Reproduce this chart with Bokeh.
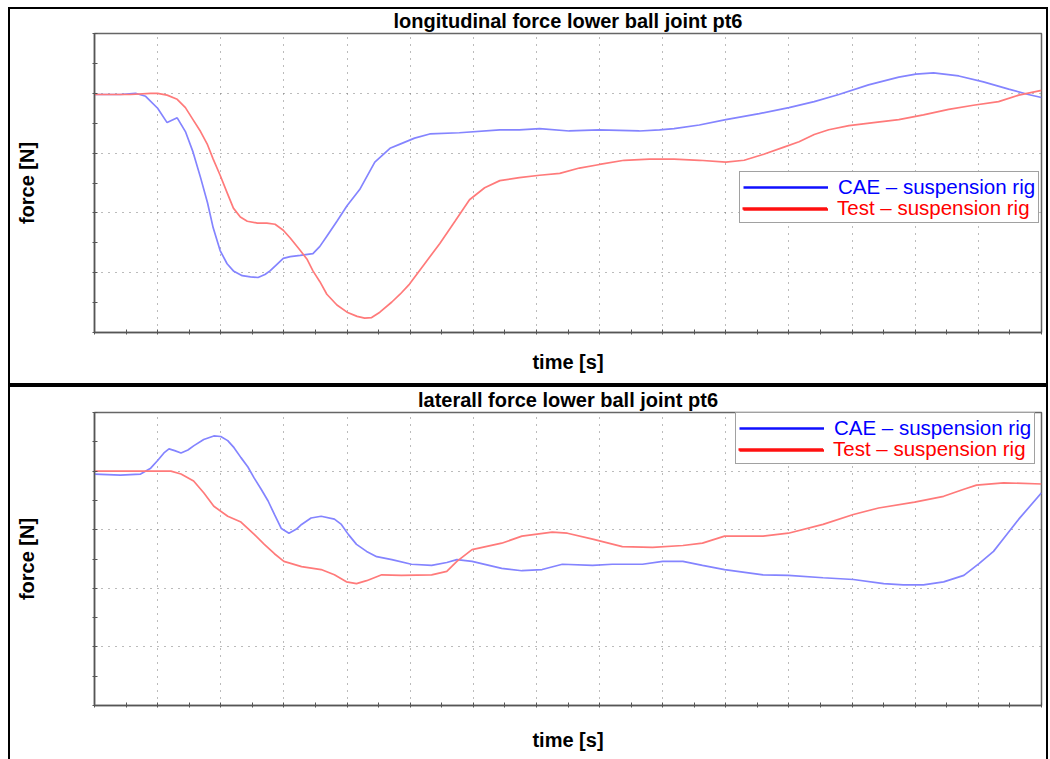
from bokeh.plotting import figure
from bokeh.layouts import column
from bokeh.models import FixedTicker, Legend, LegendItem
from bokeh.embed import file_html
from bokeh.resources import INLINE

# ---------------- data (grid units) ----------------
top_cae_t = [0, 0.41, 0.65, 0.81, 1.00, 1.15, 1.31, 1.44, 1.56, 1.68, 1.79, 1.88, 1.99, 2.10, 2.20,
             2.34, 2.47, 2.59, 2.70, 2.78, 2.89, 2.99, 3.10, 3.26, 3.46, 3.57, 3.68, 3.84, 4.00, 4.20,
             4.44, 4.68, 4.84, 5.07, 5.31, 5.78, 6.42, 6.73, 7.05, 7.52, 7.99, 8.63, 8.95, 9.18, 9.58,
             10.00, 10.53, 11.00, 11.40, 11.79, 12.26, 12.74, 13.01, 13.29, 13.69, 14.08, 14.48, 14.79, 15.00]
top_cae_f = [3.98, 3.98, 4.00, 3.95, 3.75, 3.51, 3.59, 3.36, 3.02, 2.59, 2.17, 1.75, 1.37, 1.15, 1.03,
             0.95, 0.93, 0.92, 0.97, 1.03, 1.14, 1.24, 1.27, 1.29, 1.32, 1.44, 1.61, 1.86, 2.12, 2.39,
             2.85, 3.08, 3.15, 3.25, 3.32, 3.34, 3.39, 3.39, 3.41, 3.37, 3.39, 3.37, 3.39, 3.41, 3.47,
             3.56, 3.66, 3.76, 3.86, 3.98, 4.14, 4.27, 4.32, 4.34, 4.29, 4.19, 4.07, 3.98, 3.93]

top_test_t = [0, 0.57, 0.89, 1.00, 1.15, 1.31, 1.44, 1.56, 1.68, 1.79, 1.88, 1.99, 2.10, 2.20, 2.31,
              2.42, 2.58, 2.73, 2.86, 2.99, 3.10, 3.26, 3.37, 3.46, 3.57, 3.68, 3.84, 4.00, 4.16, 4.28,
              4.39, 4.52, 4.71, 4.84, 4.99, 5.23, 5.47, 5.71, 5.94, 6.18, 6.42, 6.73, 7.05, 7.37, 7.68,
              8.00, 8.39, 8.79, 9.18, 9.58, 10.00, 10.29, 10.60, 10.92, 11.16, 11.40, 11.63, 11.95, 12.34,
              12.74, 13.13, 13.53, 13.92, 14.32, 14.64, 15.00]
top_test_f = [3.98, 3.98, 4.00, 4.00, 3.97, 3.90, 3.76, 3.56, 3.36, 3.14, 2.90, 2.63, 2.34, 2.08, 1.93,
              1.86, 1.83, 1.83, 1.81, 1.71, 1.58, 1.37, 1.22, 1.03, 0.85, 0.64, 0.46, 0.34, 0.27, 0.24,
              0.25, 0.34, 0.51, 0.64, 0.81, 1.15, 1.49, 1.86, 2.22, 2.42, 2.54, 2.59, 2.63, 2.66, 2.75,
              2.81, 2.88, 2.90, 2.90, 2.88, 2.85, 2.88, 2.98, 3.10, 3.19, 3.31, 3.39, 3.46, 3.51,
              3.56, 3.64, 3.73, 3.80, 3.86, 3.97, 4.05]

bot_cae_t = [0, 0.41, 0.73, 0.89, 1.00, 1.10, 1.18, 1.27, 1.37, 1.48, 1.57, 1.73, 1.89, 2.00, 2.11,
             2.21, 2.32, 2.43, 2.53, 2.64, 2.75, 2.85, 2.96, 3.08, 3.20, 3.28, 3.43, 3.59, 3.80, 3.91,
             4.02, 4.15, 4.31, 4.47, 4.71, 5.02, 5.34, 5.58, 5.74, 5.98, 6.45, 6.77, 7.09, 7.41, 7.89,
             8.20, 8.68, 9.00, 9.32, 9.63, 9.98, 10.59, 10.99, 11.54, 12.02, 12.50, 12.81, 13.13, 13.45,
             13.77, 14.01, 14.24, 14.40, 14.64, 15.00]
bot_cae_f = [3.95, 3.93, 3.95, 4.05, 4.18, 4.31, 4.38, 4.35, 4.31, 4.36, 4.43, 4.54, 4.60, 4.59, 4.52,
             4.40, 4.23, 4.07, 3.88, 3.69, 3.49, 3.26, 3.02, 2.94, 3.01, 3.09, 3.20, 3.23, 3.18, 3.09,
             2.92, 2.75, 2.63, 2.54, 2.49, 2.41, 2.39, 2.44, 2.49, 2.46, 2.34, 2.30, 2.32, 2.41, 2.39,
             2.41, 2.41, 2.46, 2.46, 2.39, 2.32, 2.23, 2.22, 2.18, 2.15, 2.08, 2.06, 2.06, 2.11,
             2.22, 2.42, 2.63, 2.85, 3.18, 3.63]

bot_test_t = [0, 0.73, 1.21, 1.37, 1.57, 1.73, 1.89, 2.11, 2.32, 2.53, 2.69, 2.85, 3.00, 3.28, 3.59,
              3.80, 3.99, 4.15, 4.31, 4.55, 4.86, 5.34, 5.58, 5.74, 5.98, 6.45, 6.77, 7.25, 7.49, 7.89,
              8.36, 8.84, 9.32, 9.63, 9.98, 10.59, 10.99, 11.54, 12.02, 12.42, 12.99, 13.45, 13.77, 13.97,
              14.40, 15.00]
bot_test_f = [4.00, 4.00, 4.00, 3.95, 3.83, 3.63, 3.40, 3.23, 3.13, 2.92, 2.75, 2.59, 2.46, 2.37, 2.32,
              2.23, 2.11, 2.08, 2.13, 2.23, 2.22, 2.23, 2.29, 2.46, 2.66, 2.77, 2.89, 2.96, 2.94, 2.84,
              2.71, 2.70, 2.73, 2.77, 2.89, 2.89, 2.94, 3.09, 3.26, 3.37, 3.47, 3.57, 3.69, 3.76,
              3.80, 3.78]

x_ticks = list(range(16))
x_minor = [i + 0.5 for i in range(15)]
y_ticks = list(range(6))
y_minor = [i + 0.5 for i in range(5)]

titles = ["longitudinal force lower ball joint pt6", "laterall force lower ball joint pt6"]
x_label = "time [s]"
y_label = "force [N]"
labels = ["CAE \u2013 suspension rig", "Test \u2013 suspension rig"]
legend_proxy = [float("nan")]

FONT = "Liberation Sans"
CAE_LINE = "#8484ff"
TEST_LINE = "#ff7a7a"


def make_panel(title, cae_t, cae_f, test_t, test_f, height, b_top, b_bottom, b_right,
               x_standoff, leg_xy, styles, margin):
    p = figure(width=1040, height=height, x_range=(0, 15), y_range=(0, 5),
               output_backend="svg", toolbar_location=None,
               min_border_left=84, min_border_right=b_right,
               min_border_top=b_top, min_border_bottom=b_bottom,
               background_fill_color="white", border_fill_color="white")
    p.styles = styles
    p.margin = margin
    p.title.text = title
    p.title.align = "center"
    p.title.vertical_align = "top"
    p.title.text_font = FONT
    p.title.text_font_size = "20px"
    p.title.text_font_style = "bold"
    p.title.text_color = "black"
    p.title.standoff = 0

    p.outline_line_color = "#666666"
    p.outline_line_width = 1.5

    for ax, ticks, minor, lab in ((p.xaxis[0], x_ticks, x_minor, x_label),
                                  (p.yaxis[0], y_ticks, y_minor, y_label)):
        ax.ticker = FixedTicker(ticks=ticks, minor_ticks=minor)
        ax.axis_label = lab
        ax.axis_label_text_font = FONT
        ax.axis_label_text_font_size = "20px"
        ax.axis_label_text_font_style = "bold"
        ax.axis_label_text_color = "black"
        ax.major_label_text_font_size = "0px"
        ax.major_label_text_color = None
        ax.major_label_standoff = 0
        ax.axis_line_color = "#555555"
        ax.axis_line_width = 1.5
        ax.major_tick_line_color = "#555555"
        ax.minor_tick_line_color = "#555555"
        ax.major_tick_in = 3
        ax.major_tick_out = 2
        ax.minor_tick_in = 3
        ax.minor_tick_out = 2
    p.xaxis[0].axis_label_standoff = x_standoff
    p.yaxis[0].axis_label_standoff = 55

    for g in (p.xgrid[0], p.ygrid[0]):
        g.grid_line_color = "#777777"
        g.grid_line_dash = "1 6"
        g.grid_line_width = 1

    p.line(cae_t, cae_f, line_color=CAE_LINE, line_width=1.7)
    p.line(test_t, test_f, line_color=TEST_LINE, line_width=1.7)

    # legend key glyphs (saturated, as in the picture's key); they draw nothing in the plot
    r_cae = p.line(legend_proxy, legend_proxy, line_color="#1010ff", line_width=2.5)
    r_test = p.line(legend_proxy, legend_proxy, line_color="#ff1010", line_width=2.5)

    common = dict(location=leg_xy, padding=3, spacing=0, margin=0, label_standoff=10,
                  glyph_width=85, glyph_height=20, label_height=20,
                  label_text_font=FONT, label_text_font_size="20.5px")
    leg_a = Legend(items=[LegendItem(label=labels[0], renderers=[r_cae]),
                          LegendItem(label=" ", renderers=[r_test])],
                   border_line_color="#444444", border_line_width=1.5,
                   background_fill_color="white", background_fill_alpha=1,
                   label_text_color="#0000ff", **common)
    leg_b = Legend(items=[LegendItem(label=labels[1], renderers=[r_test])],
                   border_line_alpha=0, background_fill_alpha=0,
                   label_text_color="#ff0000", **common)
    p.add_layout(leg_a)
    p.add_layout(leg_b)
    return p


p1 = make_panel(titles[0], top_cae_t, top_cae_f, top_test_t, top_test_f,
                height=378, b_top=24, b_bottom=55, b_right=3, x_standoff=16,
                leg_xy=(645, 109),
                styles={"border": "2px solid black"}, margin=(7, 0, 0, 8))
p2 = make_panel(titles[1], bot_cae_t, bot_cae_f, bot_test_t, bot_test_f,
                height=374, b_top=25, b_bottom=56, b_right=9, x_standoff=21,
                leg_xy=(641, 241),
                styles={"border": "2px solid black", "border-bottom": "none"},
                margin=(0, 0, 0, 8))

layout = column(p1, p2, spacing=0)
open("out.html", "w").write(file_html(layout, INLINE))
